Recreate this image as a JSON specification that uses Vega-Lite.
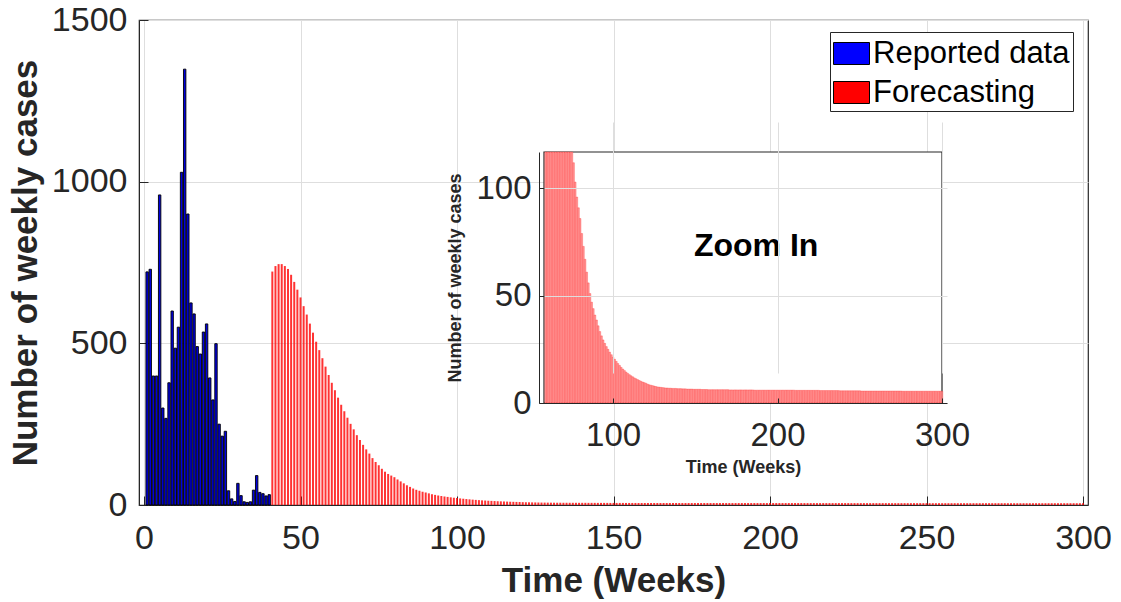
{
 "$schema": "https://vega.github.io/schema/vega-lite/v6.json",
 "width": 949,
 "height": 485,
 "autosize": {"type": "none"},
 "padding": {"left": 139, "top": 20, "right": 33, "bottom": 97},
 "background": "white",
 "config": {
  "view": {"stroke": "#262626", "strokeWidth": 1.2},
  "font": "Liberation Sans",
  "axis": {"labelFont": "Liberation Sans", "titleFont": "Liberation Sans", "labelColor": "#262626", "titleColor": "#262626", "domainColor": "#262626", "tickColor": "#262626", "gridColor": "#dedede", "gridWidth": 1, "labelFlush": false, "labelOverlap": false, "labelBound": false, "format": "d"}
 },
 "datasets": {
  "reported": [{"w":1,"v":721},{"w":2,"v":729},{"w":3,"v":399},{"w":4,"v":399},{"w":5,"v":959},{"w":6,"v":300},{"w":7,"v":268},{"w":8,"v":378},{"w":9,"v":600},{"w":10,"v":485},{"w":11,"v":550},{"w":12,"v":1029},{"w":13,"v":1348},{"w":14,"v":900},{"w":15,"v":625},{"w":16,"v":591},{"w":17,"v":490},{"w":18,"v":467},{"w":19,"v":535},{"w":20,"v":560},{"w":21,"v":393},{"w":22,"v":325},{"w":23,"v":499},{"w":24,"v":250},{"w":25,"v":213},{"w":26,"v":228},{"w":27,"v":44},{"w":28,"v":19},{"w":29,"v":11},{"w":30,"v":67},{"w":31,"v":29},{"w":32,"v":10},{"w":33,"v":8},{"w":34,"v":10},{"w":35,"v":46},{"w":36,"v":91},{"w":37,"v":39},{"w":38,"v":35},{"w":39,"v":28},{"w":40,"v":32}],
  "forecast": [{"w":41,"v":722},{"w":42,"v":739},{"w":43,"v":745},{"w":44,"v":745},{"w":45,"v":739},{"w":46,"v":730},{"w":47,"v":712},{"w":48,"v":690},{"w":49,"v":666},{"w":50,"v":642},{"w":51,"v":615},{"w":52,"v":589},{"w":53,"v":561},{"w":54,"v":533},{"w":55,"v":505},{"w":56,"v":479},{"w":57,"v":454},{"w":58,"v":428},{"w":59,"v":402},{"w":60,"v":378},{"w":61,"v":355},{"w":62,"v":332},{"w":63,"v":310},{"w":64,"v":290},{"w":65,"v":270},{"w":66,"v":251},{"w":67,"v":234},{"w":68,"v":216},{"w":69,"v":201},{"w":70,"v":186},{"w":71,"v":172},{"w":72,"v":159},{"w":73,"v":145},{"w":74,"v":133},{"w":75,"v":123},{"w":76,"v":112},{"w":77,"v":103},{"w":78,"v":96},{"w":79,"v":91},{"w":80,"v":86},{"w":81,"v":79},{"w":82,"v":73},{"w":83,"v":67},{"w":84,"v":61},{"w":85,"v":56},{"w":86,"v":51},{"w":87,"v":47},{"w":88,"v":44},{"w":89,"v":41},{"w":90,"v":38.7},{"w":91,"v":36},{"w":92,"v":33.3},{"w":93,"v":31.3},{"w":94,"v":29.4},{"w":95,"v":27.8},{"w":96,"v":26.3},{"w":97,"v":25},{"w":98,"v":23.7},{"w":99,"v":22.5},{"w":100,"v":21.4},{"w":101,"v":20.4},{"w":102,"v":19.4},{"w":103,"v":18.4},{"w":104,"v":17.5},{"w":105,"v":16.6},{"w":106,"v":15.8},{"w":107,"v":15.1},{"w":108,"v":14.4},{"w":109,"v":13.8},{"w":110,"v":13.2},{"w":111,"v":12.7},{"w":112,"v":12.2},{"w":113,"v":11.7},{"w":114,"v":11.3},{"w":115,"v":10.9},{"w":116,"v":10.5},{"w":117,"v":10.1},{"w":118,"v":9.8},{"w":119,"v":9.5},{"w":120,"v":9.2},{"w":121,"v":8.8},{"w":122,"v":8.5},{"w":123,"v":8.3},{"w":124,"v":8.1},{"w":125,"v":7.9},{"w":126,"v":7.7},{"w":127,"v":7.5},{"w":128,"v":7.4},{"w":129,"v":7.3},{"w":130,"v":7.2},{"w":131,"v":7.1},{"w":132,"v":7.0},{"w":133,"v":7.0},{"w":134,"v":6.9},{"w":135,"v":6.9},{"w":136,"v":6.8},{"w":137,"v":6.8},{"w":138,"v":6.8},{"w":139,"v":6.7},{"w":140,"v":6.7},{"w":141,"v":6.7},{"w":142,"v":6.6},{"w":143,"v":6.6},{"w":144,"v":6.6},{"w":145,"v":6.5},{"w":146,"v":6.5},{"w":147,"v":6.5},{"w":148,"v":6.5},{"w":149,"v":6.4},{"w":150,"v":6.4},{"w":151,"v":6.4},{"w":152,"v":6.4},{"w":153,"v":6.4},{"w":154,"v":6.3},{"w":155,"v":6.3},{"w":156,"v":6.3},{"w":157,"v":6.3},{"w":158,"v":6.2},{"w":159,"v":6.2},{"w":160,"v":6.2},{"w":161,"v":6.2},{"w":162,"v":6.2},{"w":163,"v":6.2},{"w":164,"v":6.2},{"w":165,"v":6.2},{"w":166,"v":6.2},{"w":167,"v":6.2},{"w":168,"v":6.2},{"w":169,"v":6.2},{"w":170,"v":6.2},{"w":171,"v":6.1},{"w":172,"v":6.1},{"w":173,"v":6.1},{"w":174,"v":6.1},{"w":175,"v":6.1},{"w":176,"v":6.1},{"w":177,"v":6.1},{"w":178,"v":6.1},{"w":179,"v":6.1},{"w":180,"v":6.1},{"w":181,"v":6.1},{"w":182,"v":6.1},{"w":183,"v":6.1},{"w":184,"v":6.1},{"w":185,"v":6.1},{"w":186,"v":6.0},{"w":187,"v":6.0},{"w":188,"v":6.0},{"w":189,"v":6.0},{"w":190,"v":6.0},{"w":191,"v":6.0},{"w":192,"v":6.0},{"w":193,"v":6.0},{"w":194,"v":6.0},{"w":195,"v":6.0},{"w":196,"v":6.0},{"w":197,"v":6.0},{"w":198,"v":6.0},{"w":199,"v":6.0},{"w":200,"v":6.0},{"w":201,"v":6.0},{"w":202,"v":6.0},{"w":203,"v":6.0},{"w":204,"v":6.0},{"w":205,"v":6.0},{"w":206,"v":6.0},{"w":207,"v":6.0},{"w":208,"v":6.0},{"w":209,"v":6.0},{"w":210,"v":6.0},{"w":211,"v":5.9},{"w":212,"v":5.9},{"w":213,"v":5.9},{"w":214,"v":5.9},{"w":215,"v":5.9},{"w":216,"v":5.9},{"w":217,"v":5.9},{"w":218,"v":5.9},{"w":219,"v":5.9},{"w":220,"v":5.9},{"w":221,"v":5.9},{"w":222,"v":5.9},{"w":223,"v":5.9},{"w":224,"v":5.9},{"w":225,"v":5.9},{"w":226,"v":5.8},{"w":227,"v":5.8},{"w":228,"v":5.8},{"w":229,"v":5.8},{"w":230,"v":5.8},{"w":231,"v":5.8},{"w":232,"v":5.8},{"w":233,"v":5.8},{"w":234,"v":5.8},{"w":235,"v":5.8},{"w":236,"v":5.8},{"w":237,"v":5.8},{"w":238,"v":5.7},{"w":239,"v":5.7},{"w":240,"v":5.7},{"w":241,"v":5.7},{"w":242,"v":5.7},{"w":243,"v":5.7},{"w":244,"v":5.7},{"w":245,"v":5.7},{"w":246,"v":5.7},{"w":247,"v":5.7},{"w":248,"v":5.7},{"w":249,"v":5.7},{"w":250,"v":5.7},{"w":251,"v":5.6},{"w":252,"v":5.6},{"w":253,"v":5.6},{"w":254,"v":5.6},{"w":255,"v":5.6},{"w":256,"v":5.6},{"w":257,"v":5.6},{"w":258,"v":5.6},{"w":259,"v":5.6},{"w":260,"v":5.6},{"w":261,"v":5.6},{"w":262,"v":5.6},{"w":263,"v":5.6},{"w":264,"v":5.6},{"w":265,"v":5.6},{"w":266,"v":5.6},{"w":267,"v":5.6},{"w":268,"v":5.6},{"w":269,"v":5.6},{"w":270,"v":5.6},{"w":271,"v":5.6},{"w":272,"v":5.6},{"w":273,"v":5.6},{"w":274,"v":5.6},{"w":275,"v":5.6},{"w":276,"v":5.5},{"w":277,"v":5.5},{"w":278,"v":5.5},{"w":279,"v":5.5},{"w":280,"v":5.5},{"w":281,"v":5.5},{"w":282,"v":5.5},{"w":283,"v":5.5},{"w":284,"v":5.5},{"w":285,"v":5.5},{"w":286,"v":5.5},{"w":287,"v":5.5},{"w":288,"v":5.5},{"w":289,"v":5.5},{"w":290,"v":5.5},{"w":291,"v":5.5},{"w":292,"v":5.5},{"w":293,"v":5.5},{"w":294,"v":5.5},{"w":295,"v":5.5},{"w":296,"v":5.5},{"w":297,"v":5.5},{"w":298,"v":5.5},{"w":299,"v":5.5},{"w":300,"v":5.5}]
 },
 "layer": [
  {
   "layer": [
    {
     "data": {"name": "reported"},
     "mark": {"type": "bar", "width": 2.4, "fill": "#0000dd", "stroke": "#000000", "strokeWidth": 0.9},
     "encoding": {
      "x": {"field": "w", "type": "quantitative", "scale": {"domain": [0, 300], "nice": false, "zero": false},
            "axis": {"values": [0, 50, 100, 150, 200, 250, 300], "labelFontSize": 34, "labelPadding": 25, "tickSize": -9, "grid": true, "title": "Time (Weeks)", "titleFontSize": 35, "titleFontWeight": "bold", "titlePadding": 8}},
      "y": {"field": "v", "type": "quantitative", "scale": {"domain": [0, 1500], "nice": false},
            "axis": {"values": [0, 500, 1000, 1500], "labelFontSize": 34, "labelPadding": 21, "tickSize": -9, "grid": true, "title": "Number of weekly cases", "titleFontSize": 35, "titleFontWeight": "bold", "titlePadding": 8}},
      "color": {"datum": "Reported data", "type": "nominal",
                "scale": {"domain": ["Reported data", "Forecasting"], "range": ["#0000ff", "#ff0000"]},
                "legend": {"title": null, "orient": "none", "legendX": 691, "legendY": 12, "direction": "vertical",
                           "symbolType": "M-1,-0.611H1V0.611H-1Z", "symbolSize": 1296, "symbolStrokeWidth": 1,
                           "labelFontSize": 31, "labelFont": "Liberation Sans", "labelColor": "#000000", "labelOffset": 3, "labelLimit": 400,
                           "rowPadding": 5, "padding": 3, "strokeColor": "#262626", "fillColor": "white",
                           "encode": {"symbols": {"update": {"fill": {"signal": "datum.value === 'Reported data' ? '#0000ff' : '#ff0000'"}, "stroke": {"signal": "datum.value === 'Reported data' ? '#000000' : '#ff0000'"}, "opacity": {"value": 1}, "fillOpacity": {"value": 1}}}}}}
     }
    },
    {
     "data": {"name": "forecast"},
     "mark": {"type": "bar", "width": 2, "fillOpacity": 0.8},
     "encoding": {
      "x": {"field": "w", "type": "quantitative"},
      "y": {"field": "v", "type": "quantitative"},
      "color": {"datum": "Forecasting", "type": "nominal"}
     }
    }
   ]
  },
  {
   "layer": [
    {
     "data": {"values": [{}]},
     "mark": {"type": "rect", "fill": "white", "stroke": "#262626", "strokeWidth": 1.2},
     "encoding": {
      "x": {"datum": 58, "type": "quantitative", "scale": {"domain": [58, 300], "range": [400, 808], "nice": false, "zero": false, "clamp": true},
            "axis": {"orient": "bottom", "offset": -102, "zindex": 1, "values": [100, 200, 300], "labelFontSize": 33, "labelPadding": 21, "tickSize": -5, "grid": true, "title": "Time (Weeks)", "titleFontSize": 18, "titleFontWeight": "bold", "titlePadding": 6}},
      "x2": {"datum": 300},
      "y": {"datum": 0, "type": "quantitative", "scale": {"domain": [0, 117], "range": [383, 132], "nice": false, "clamp": true},
            "axis": {"orient": "left", "offset": -400, "zindex": 1, "values": [0, 50, 100], "labelFontSize": 33, "labelPadding": 13, "tickSize": -5, "grid": true, "title": "Number of weekly cases", "titleFontSize": 18, "titleFontWeight": "bold", "titlePadding": 11}},
      "y2": {"datum": 117}
     }
    },
    {
     "data": {"name": "forecast"},
     "transform": [{"filter": "datum.w >= 59"}],
     "mark": {"type": "bar", "width": 1.6, "fill": "#ff9a9a", "stroke": "#ff2020", "strokeWidth": 0.3},
     "encoding": {
      "x": {"field": "w", "type": "quantitative"},
      "y": {"field": "v", "type": "quantitative"}
     }
    },
    {
     "data": {"values": [{"label": "Zoom In"}]},
     "mark": {"type": "text", "font": "Liberation Sans", "fontWeight": "bold", "fontSize": 32, "color": "#000000"},
     "encoding": {
      "x": {"datum": 187, "type": "quantitative"},
      "y": {"datum": 73, "type": "quantitative"},
      "text": {"field": "label"}
     }
    }
   ]
  }
 ],
 "resolve": {"scale": {"x": "independent", "y": "independent"}}
}
